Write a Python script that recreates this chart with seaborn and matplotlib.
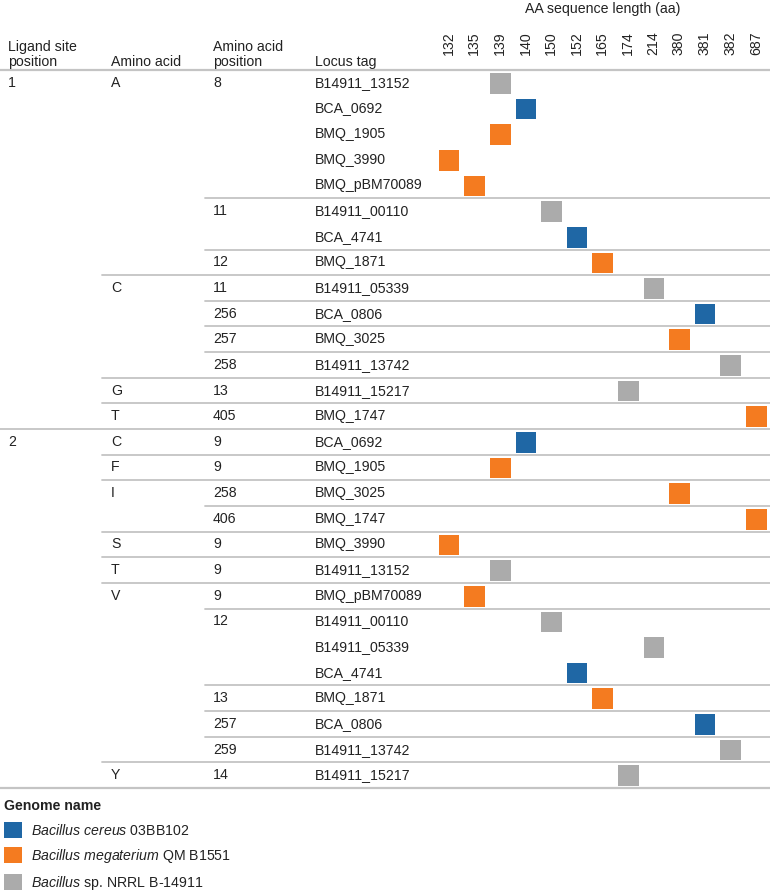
import numpy as np
import pandas as pd
import matplotlib
matplotlib.use('Agg')
import matplotlib.pyplot as plt
import matplotlib.transforms as mtransforms
from matplotlib.colors import ListedColormap
from matplotlib.patches import Patch
import seaborn as sns

# --- data (one entry per table row) ---
ligand = ['1'] * 14 + ['2'] * 14
amino_acid = ['A'] * 8 + ['C'] * 4 + ['G', 'T'] + ['C', 'F', 'I', 'I', 'S', 'T'] + ['V'] * 7 + ['Y']
aa_position = ['8', '8', '8', '8', '8', '11', '11', '12', '11', '256', '257', '258', '13', '405',
               '9', '9', '258', '406', '9', '9', '9', '12', '12', '12', '13', '257', '259', '14']
locus_tag = ['B14911_13152', 'BCA_0692', 'BMQ_1905', 'BMQ_3990', 'BMQ_pBM70089',
             'B14911_00110', 'BCA_4741', 'BMQ_1871', 'B14911_05339', 'BCA_0806',
             'BMQ_3025', 'B14911_13742', 'B14911_15217', 'BMQ_1747',
             'BCA_0692', 'BMQ_1905', 'BMQ_3025', 'BMQ_1747', 'BMQ_3990', 'B14911_13152',
             'BMQ_pBM70089', 'B14911_00110', 'B14911_05339', 'BCA_4741', 'BMQ_1871',
             'BCA_0806', 'B14911_13742', 'B14911_15217']
seq_length = [139, 140, 139, 132, 135, 150, 152, 165, 214, 381, 380, 382, 174, 687,
              140, 139, 380, 687, 132, 139, 135, 150, 214, 152, 165, 381, 382, 174]

genome_names = ['Bacillus cereus 03BB102', 'Bacillus megaterium QM B1551', 'Bacillus sp. NRRL B-14911']
genome_labels = [r'$\mathit{Bacillus\ cereus}$ 03BB102',
                 r'$\mathit{Bacillus\ megaterium}$ QM B1551',
                 r'$\mathit{Bacillus}$ sp. NRRL B-14911']
locus_prefix = {'BCA': 0, 'BMQ': 1, 'B14911': 2}
genome_colors = ['#1f67a5', '#f47b20', '#ababab']

sns.set_style('white')
plt.rcParams['font.family'] = ['Liberation Sans', 'DejaVu Sans']
plt.rcParams['mathtext.fontset'] = 'custom'
plt.rcParams['mathtext.rm'] = 'Liberation Sans'
plt.rcParams['mathtext.it'] = 'Liberation Sans:italic'
FS = 10.2
TXT = '#222222'
LINE = '#c4c4c4'

df = pd.DataFrame({'row': range(len(locus_tag)), 'length': seq_length,
                   'genome': [locus_prefix[t.split('_')[0]] for t in locus_tag]})
mat = df.pivot(index='row', columns='length', values='genome')
lengths = list(mat.columns)

W, H = 770, 892
fig = plt.figure(figsize=(W / 100, H / 100), dpi=100)
ax = fig.add_axes([435.8 / W, (H - 788) / H, (768.6 - 435.8) / W, 718 / H])

sns.heatmap(mat, ax=ax, cmap=ListedColormap(genome_colors), vmin=-0.5, vmax=2.5,
            cbar=False, linewidths=2.4, linecolor='white',
            xticklabels=lengths, yticklabels=False)
ax.set_xlabel('')
ax.set_ylabel('')
ax.xaxis.tick_top()
ax.tick_params(axis='x', length=0, pad=10.5, labelsize=FS, labelcolor=TXT, rotation=90)

blend = mtransforms.blended_transform_factory(fig.transFigure, ax.transData)

# column x positions (figure px)
col_x = [8, 111, 213, 315]
n = len(locus_tag)
for i in range(n):
    y = i + 0.5
    new_lig = i == 0 or ligand[i] != ligand[i - 1]
    new_aa = new_lig or amino_acid[i] != amino_acid[i - 1]
    new_pos = new_aa or aa_position[i] != aa_position[i - 1]
    if new_lig:
        ax.text(col_x[0] / W, y, ligand[i], transform=blend, va='center', fontsize=FS, color=TXT)
    if new_aa:
        ax.text(col_x[1] / W, y, amino_acid[i], transform=blend, va='center', fontsize=FS, color=TXT)
    if new_pos:
        ax.text(col_x[2] / W, y, aa_position[i], transform=blend, va='center', fontsize=FS, color=TXT)
    ax.text(col_x[3] / W, y, locus_tag[i], transform=blend, va='center', fontsize=FS, color=TXT)

    # separator above this row
    if i > 0:
        if new_lig:
            x0 = 0
        elif new_aa:
            x0 = 102 / W
        elif new_pos:
            x0 = 205 / W
        else:
            continue
        ax.plot([x0, 1], [i, i], transform=blend, color=LINE, lw=1.3, clip_on=False, zorder=5)

for yb in (0, n):
    ax.plot([0, 1], [yb, yb], transform=blend, color=LINE, lw=1.6, clip_on=False, zorder=5)

# headers
hy = 1 - 69 / H
fig.text(col_x[0] / W, hy, 'Ligand site\nposition', ha='left', va='bottom', fontsize=FS, color=TXT, linespacing=1.1)
fig.text(col_x[1] / W, hy, 'Amino acid', ha='left', va='bottom', fontsize=FS, color=TXT)
fig.text(col_x[2] / W, hy, 'Amino acid\nposition', ha='left', va='bottom', fontsize=FS, color=TXT, linespacing=1.1)
fig.text(col_x[3] / W, hy, 'Locus tag', ha='left', va='bottom', fontsize=FS, color=TXT)
fig.text((435.8 + 768.6) / 2 / W, 1 - 9 / H, 'AA sequence length (aa)', ha='center', va='center',
         fontsize=FS, color=TXT)

# legend
handles = [Patch(facecolor=c, edgecolor='none', label=l) for c, l in zip(genome_colors, genome_labels)]
leg = fig.legend(handles=handles, loc='upper left', bbox_to_anchor=(4 / W, 1 - 799 / H),
                 frameon=False, title='Genome name', alignment='left',
                 title_fontproperties={'weight': 'bold', 'size': FS},
                 fontsize=FS, handlelength=1.3, handleheight=1.38, handletextpad=0.62,
                 labelspacing=0.62, borderpad=0, borderaxespad=0)
for t in leg.get_texts():
    t.set_color(TXT)
leg.get_title().set_color(TXT)

fig.savefig('out.png', dpi=100)
